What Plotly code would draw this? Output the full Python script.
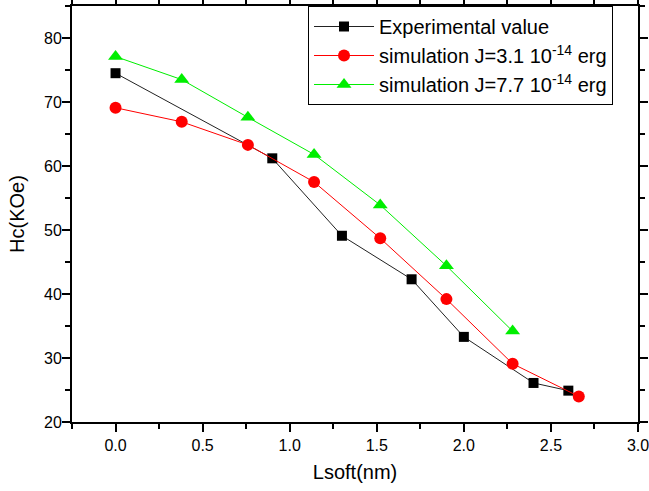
import plotly.graph_objects as go

# experimental data
exp_x = [0.0, 0.9, 1.3, 1.7, 2.0, 2.4, 2.6]
exp_y = [74.5, 61.2, 49.1, 42.3, 33.3, 26.1, 24.9]

# simulations
sim_x = [0.0, 0.38, 0.76, 1.14, 1.52, 1.9, 2.28, 2.66]
sim31_y = [69.1, 66.9, 63.3, 57.5, 48.7, 39.2, 29.1, 24.0]
sim77_x = [0.0, 0.38, 0.76, 1.14, 1.52, 1.9, 2.28]
sim77_y = [77.1, 73.5, 67.6, 61.8, 53.9, 44.4, 34.2]

FONT = 'Liberation Sans, Arial'

fig = go.Figure()
fig.add_trace(go.Scatter(x=exp_x, y=exp_y, mode='lines+markers', name='Experimental value',
                         line=dict(color='#222222', width=1),
                         marker=dict(symbol='square', size=10, color='black')))
fig.add_trace(go.Scatter(x=sim_x, y=sim31_y, mode='lines+markers',
                         name='simulation J=3.1 10<sup>-14</sup> erg',
                         line=dict(color='red', width=1),
                         marker=dict(symbol='circle', size=12, color='red')))
fig.add_trace(go.Scatter(x=sim77_x, y=sim77_y, mode='lines+markers',
                         name='simulation J=7.7 10<sup>-14</sup> erg',
                         line=dict(color='#00ee00', width=1),
                         marker=dict(symbol='triangle-up', size=13, color='#00ee00')))

axis_common = dict(showline=True, linecolor='black', linewidth=2, mirror='ticks',
                   ticks='outside', ticklen=8, tickwidth=2, tickcolor='black',
                   showgrid=False, zeroline=False, ticklabeloverflow='allow',
                   tickfont=dict(family=FONT, size=16, color='black'))

fig.update_xaxes(range=[-0.25, 3.0], dtick=0.5, tickformat='.1f',
                 minor=dict(dtick=0.25, ticks='outside', ticklen=5, tickwidth=2, tickcolor='black'),
                 title=dict(text='Lsoft(nm)', standoff=12, font=dict(family=FONT, size=20, color='black')),
                 **axis_common)
fig.update_yaxes(range=[20, 85], dtick=10, ticklabelstandoff=-3,
                 minor=dict(dtick=5, ticks='outside', ticklen=5, tickwidth=2, tickcolor='black'),
                 title=dict(text='Hc(KOe)', standoff=14, font=dict(family=FONT, size=20, color='black')),
                 **axis_common)

fig.update_layout(
    width=649, height=491,
    margin=dict(l=72, r=11, t=6, b=69, autoexpand=False),
    plot_bgcolor='white', paper_bgcolor='white',
    font=dict(family=FONT, color='black'),
    legend=dict(x=0.417, y=1, xanchor='left', yanchor='top',
                bordercolor='black', borderwidth=1, bgcolor='white',
                font=dict(size=20), tracegroupgap=0, itemwidth=60),
)

fig.write_html("out.html", config={'displayModeBar': False},
               post_script="document.body.style.margin='0';")
